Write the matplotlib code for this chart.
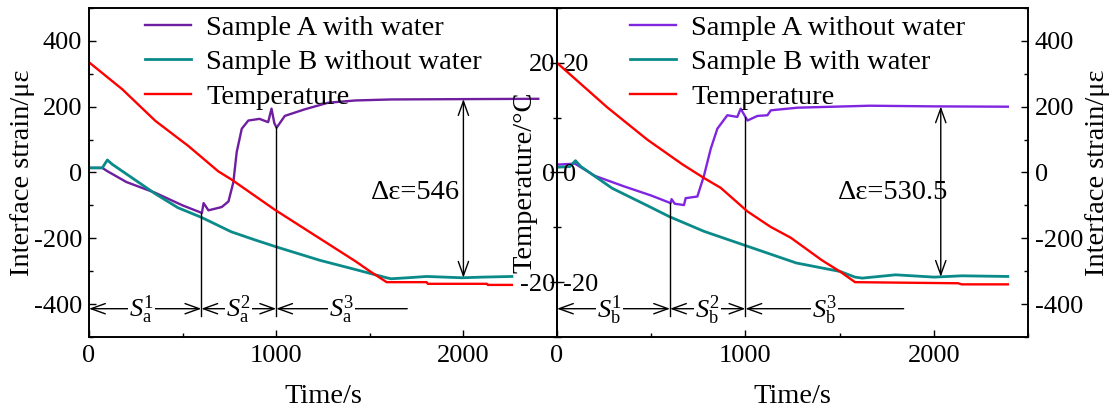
import numpy as np
import matplotlib
matplotlib.use("Agg")
import matplotlib.pyplot as plt
from matplotlib.ticker import MultipleLocator

plt.rcParams['font.family'] = ['Liberation Serif', 'DejaVu Serif']
plt.rcParams['font.size'] = 20.5
plt.rcParams['xtick.labelsize'] = 19
plt.rcParams['ytick.labelsize'] = 19
plt.rcParams['axes.unicode_minus'] = False
plt.rcParams['mathtext.fontset'] = 'custom'
plt.rcParams['mathtext.rm'] = 'Liberation Serif'
plt.rcParams['mathtext.it'] = 'Liberation Serif:italic'

# ---- left panel (a) ----
tA_L = [0, 71, 95, 200, 355, 500, 603, 612, 638, 709, 745, 771, 789, 816, 851, 911, 957,
        975, 990, 1002, 1046, 1152, 1277, 1424, 1613, 1993, 2400]
sA_L = [14, 14, 5, -29, -62, -100, -123, -93, -115, -105, -88, -30, 62, 133, 158, 163, 153,
        194, 150, 136, 172, 192, 212, 219, 222, 223, 224]
tB_L = [0, 71, 98, 124, 355, 475, 603, 759, 887, 1000, 1234, 1424, 1590, 1613, 1700, 1803,
        1900, 1993, 2100, 2259]
sB_L = [14, 14, 38, 25, -65, -107, -137, -180, -205, -226, -267, -295, -320, -323, -320,
        -316, -318, -320, -318, -316]
tT_L = [0, 177, 355, 532, 691, 762, 993, 1158, 1291, 1424, 1500, 1590, 1700, 1803, 1810,
        2126, 2130, 2259]
TT_L = [20.1, 15.2, 9.4, 4.8, 0.2, -1.3, -6.8, -10.4, -13.3, -16.2, -18.0, -20.0, -20.0,
        -20.0, -20.3, -20.3, -20.5, -20.5]

# ---- right panel (b) ----
tA_R = [0, 71, 95, 200, 355, 500, 603, 608, 625, 674, 683, 745, 780, 816, 851, 904, 957,
        975, 1011, 1064, 1117, 1135, 1277, 1660, 2000, 2393]
sA_R = [24, 26, 27, -10, -42, -70, -93, -81, -95, -99, -78, -73, -10, 72, 133, 174, 169,
        194, 158, 172, 174, 189, 197, 203, 201, 200]
tB_R = [0, 68, 98, 127, 293, 488, 596, 781, 1000, 1270, 1504, 1582, 1621, 1797, 2002,
        2148, 2393]
sB_R = [16, 18, 36, 18, -48, -103, -134, -179, -222, -275, -301, -318, -321, -311, -318,
        -314, -316]
tT_R = [0, 266, 479, 665, 780, 869, 1011, 1133, 1241, 1406, 1504, 1582, 1855, 2129, 2148, 2393]
TT_R = [20, 11.9, 6.0, 1.5, -1.0, -2.8, -7.1, -9.9, -11.9, -16.0, -18.1, -20.0, -20.1,
        -20.2, -20.4, -20.4]

labels_L = ['Sample A with water', 'Sample B without water', 'Temperature']
labels_R = ['Sample A without water', 'Sample B with water', 'Temperature']
stages_L = [0, 600, 1000, 1700]
stages_R = [0, 600, 1000, 1840]
stage_names_L = [r'$S_{\rm a}^{1}$', r'$S_{\rm a}^{2}$', r'$S_{\rm a}^{3}$']
stage_names_R = [r'$S_{\rm b}^{1}$', r'$S_{\rm b}^{2}$', r'$S_{\rm b}^{3}$']
delta_t = [2000, 2037]
delta_txt = [r'Δε=546', r'Δε=530.5']

purple_L = '#6E1E9E'
purple_R = '#8025E0'
teal = '#0A8A88'
red = '#FF0000'

fig = plt.figure(figsize=(11.16, 4.15), dpi=100)
ax1 = fig.add_axes([89/1116, 78/415, 468/1116, 329/415])
ax2 = fig.add_axes([557/1116, 78/415, 471/1116, 329/415])
ax1t = ax1.twinx()
ax2t = ax2.twinx()


def panel(ax, axt, tA, sA, tB, sB, tT, TT, pcol, labels, stages, names, dt, dtxt, side):
    l1, = ax.plot(tA, sA, color=pcol, lw=1.7)
    l2, = ax.plot(tB, sB, color=teal, lw=2.0)
    l3, = axt.plot(tT, TT, color=red, lw=1.7)
    ax.set_xlim(0, 2500)
    ax.set_ylim(-500, 500)
    axt.set_ylim(-30, 30)
    ax.xaxis.set_major_locator(MultipleLocator(1000))
    ax.xaxis.set_minor_locator(MultipleLocator(500))
    ax.yaxis.set_major_locator(MultipleLocator(200))
    ax.yaxis.set_minor_locator(MultipleLocator(100))
    axt.yaxis.set_major_locator(MultipleLocator(20))
    axt.yaxis.set_minor_locator(MultipleLocator(10))
    ax.tick_params(which='both', direction='in', top=False)
    ax.tick_params(which='major', length=5, width=1)
    ax.tick_params(which='minor', length=3, width=1)
    ax.tick_params(axis='x', pad=6)
    axt.tick_params(which='both', direction='in', width=1)
    axt.tick_params(which='major', length=5)
    axt.tick_params(which='minor', length=3)
    ax.set_xlabel('Time/s', labelpad=12)
    for sp in list(ax.spines.values()) + list(axt.spines.values()):
        sp.set_linewidth(1.2)

    # stage boundaries and arrows
    y_arr = -414
    for x in stages[1:3]:
        ax.plot([x, x], [np.interp(x, tA, sA), -435], color='k', lw=1)
    for i in range(3):
        style = '<->' if i < 2 else '<-'
        ax.annotate('', xy=(stages[i + 1], y_arr), xytext=(stages[i], y_arr),
                    arrowprops=dict(arrowstyle=style + ',head_length=0.5,head_width=0.18',
                                    color='k', lw=1, shrinkA=0, shrinkB=0))
        xm = stages[i] + 0.5 * (stages[i + 1] - stages[i])
        if i == 0:
            xm -= 20
        ax.text(xm, y_arr - 4, names[i], ha='center', va='center', fontsize=19,
                bbox=dict(facecolor='white', edgecolor='none', pad=0.5))
    ax.annotate('', xy=(dt, np.interp(dt, tA, sA)), xytext=(dt, np.interp(dt, tB, sB)),
                arrowprops=dict(arrowstyle='<->,head_length=0.5,head_width=0.18',
                                color='k', lw=1, shrinkA=0, shrinkB=0))
    ax.text(dt - 255, -61, dtxt, ha='center', va='center', fontsize=20.5)

    legx = 145/1116 if side == 'L' else 630/1116
    axt.legend([l1, l2, l3], labels, loc='upper left', bbox_to_anchor=(legx, 0.964),
               bbox_transform=fig.transFigure, frameon=False, borderpad=0,
               borderaxespad=0, handlelength=1.6, handletextpad=0.55, labelspacing=0.3,
               fontsize=20.5)


panel(ax1, ax1t, tA_L, sA_L, tB_L, sB_L, tT_L, TT_L, purple_L, labels_L, stages_L,
      stage_names_L, delta_t[0], delta_txt[0], 'L')
panel(ax2, ax2t, tA_R, sA_R, tB_R, sB_R, tT_R, TT_R, purple_R, labels_R, stages_R,
      stage_names_R, delta_t[1], delta_txt[1], 'R')

# left panel axes
ax1.tick_params(axis='y', right=False, pad=5)
ax1.set_ylabel('Interface strain/με')
ax1.yaxis.set_label_coords(-0.142, 0.5)
ax1.yaxis.label.set_verticalalignment('center')
ax1.yaxis.label.set_rotation_mode('default')
ax1t.tick_params(axis='y', pad=-1)
for lb in ax1t.get_yticklabels():
    lb.set_horizontalalignment('right')
ax1t.set_ylabel('Temperature/°C')
ax1t.yaxis.set_label_coords(0.932, 0.47)
ax1t.yaxis.label.set_verticalalignment('center')
ax1t.yaxis.label.set_rotation_mode('default')

# right panel axes
ax2.yaxis.tick_right()
ax2.yaxis.set_label_position('right')
ax2.tick_params(axis='y', which='both', left=False, right=True, direction='in', pad=5)
ax2.set_ylabel('Interface strain/με')
ax2.yaxis.set_label_coords(1.148, 0.5)
ax2.yaxis.label.set_verticalalignment('center')
ax2.yaxis.label.set_rotation_mode('default')
ax2t.yaxis.tick_left()
ax2t.tick_params(axis='y', which='both', left=True, right=False, pad=-4)
for lb in ax2t.get_yticklabels():
    lb.set_horizontalalignment('left')

fig.savefig('out.png', dpi=100)
